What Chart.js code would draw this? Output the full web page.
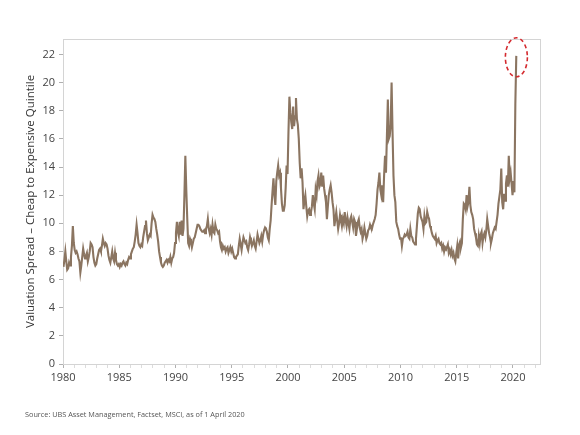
<!DOCTYPE html>
<html>
<head>
<meta charset="utf-8">
<script src="https://cdn.jsdelivr.net/npm/chart.js@4.4.1/dist/chart.umd.min.js"></script>
<style>
  html, body { margin: 0; padding: 0; background: #fff; }
  #wrap { position: relative; width: 580px; height: 435px; }
  #source {
    position: absolute; left: 25px; top: 409px;
    font: 7.3px 'Open Sans', sans-serif; color: #555;
  }
</style>
</head>
<body>
<div id="wrap">
  <canvas id="chart" width="580" height="435"></canvas>
  <div id="source">Source: UBS Asset Management, Factset, MSCI, as of 1 April 2020</div>
</div>
<script>
// Monthly valuation spread, Jan 1980 .. Apr 2020 (one row per year)
const startYear = 1980;
const spread = [
  6.9, 7.4, 8.0, 7.3, 6.7, 6.8, 7.2, 7.0, 7.6, 8.4, 9.8, 8.6,
  8.1, 7.9, 8.0, 7.8, 7.5, 7.3, 6.5, 7.0, 7.6, 8.2, 7.8, 7.5,
  7.7, 7.9, 7.3, 7.6, 8.0, 8.6, 8.5, 8.3, 7.6, 7.2, 7.0, 7.1,
  7.5, 7.8, 8.1, 8.2, 8.0, 8.4, 8.9, 8.6, 8.4, 8.6, 8.5, 8.2,
  7.7, 7.4, 7.2, 7.6, 8.0, 7.5, 7.3, 7.9, 7.4, 7.1, 7.0, 7.1,
  6.9, 7.1, 7.0, 7.2, 7.3, 7.1, 7.0, 7.2, 7.1, 7.4, 7.6, 7.5,
  7.8, 8.0, 8.2, 8.3, 8.7, 9.2, 9.9, 9.3, 8.6, 8.4, 8.3, 8.5,
  8.4, 9.0, 9.4, 9.8, 10.2, 9.3, 8.8, 9.0, 9.2, 9.1, 10.0, 10.6,
  10.4, 10.3, 10.1, 9.6, 9.2, 8.7, 8.0, 7.6, 7.2, 7.0, 6.9, 7.0,
  7.2, 7.3, 7.4, 7.2, 7.4, 7.3, 7.6, 7.2, 7.5, 7.6, 7.9, 8.6,
  9.3, 10.1, 9.4, 9.1, 10.1, 9.2, 10.2, 9.1, 9.6, 12.0, 14.8, 12.4,
  10.4, 8.6, 8.4, 8.9, 8.7, 8.3, 8.6, 8.9, 9.0, 9.3, 9.6, 9.9,
  9.9, 9.8, 9.6, 9.5, 9.4, 9.4, 9.5, 9.3, 9.6, 9.8, 10.3, 9.6,
  9.3, 9.6, 9.2, 9.9, 9.4, 9.3, 9.9, 9.6, 9.5, 9.3, 9.4, 8.7,
  8.3, 8.1, 8.4, 8.2, 8.3, 8.0, 8.2, 8.3, 7.9, 8.1, 8.3, 8.0,
  8.2, 7.9, 7.6, 7.5, 7.6, 7.7, 7.8, 8.4, 8.9, 8.5, 8.1, 8.6,
  9.0, 8.8, 8.6, 8.7, 8.3, 8.1, 8.5, 9.0, 8.7, 8.4, 8.6, 8.8,
  8.4, 8.2, 8.7, 9.2, 8.9, 8.6, 8.8, 9.1, 8.7, 9.2, 9.5, 9.7,
  9.6, 9.4, 9.0, 8.8, 9.6, 10.2, 11.3, 12.3, 13.2, 12.0, 11.3, 13.0,
  13.6, 14.1, 13.4, 13.6, 12.5, 11.4, 10.9, 10.9, 11.3, 12.5, 14.1, 13.5,
  16.5, 19.0, 17.9, 17.2, 16.7, 18.3, 16.9, 17.6, 18.9, 17.4, 17.0, 16.0,
  14.3, 13.2, 13.9, 12.9, 11.0, 11.6, 12.0, 11.2, 10.5, 10.9, 11.0, 10.6,
  10.8, 11.2, 12.0, 11.4, 11.0, 12.4, 12.0, 13.0, 13.4, 12.6, 12.8, 13.6,
  12.6, 13.4, 12.5, 12.0, 11.5, 10.3, 11.2, 12.0, 12.4, 12.7, 12.2, 11.5,
  11.0, 9.8, 10.3, 10.8, 10.2, 9.6, 10.0, 10.6, 10.2, 9.8, 10.3, 10.0,
  10.8, 10.2, 9.8, 10.4, 10.0, 9.6, 10.3, 10.5, 10.1, 9.7, 10.3, 10.1,
  9.1, 9.6, 10.1, 10.3, 9.7, 9.4, 9.6, 8.9, 9.2, 9.7, 9.3, 8.9,
  9.1, 9.5, 9.6, 9.9, 9.7, 9.6, 9.9, 10.1, 10.3, 10.6, 11.4, 12.4,
  12.9, 13.6, 12.4, 12.0, 12.7, 11.5, 13.4, 14.8, 13.6, 16.2, 18.8, 16.0,
  16.2, 17.0, 20.0, 16.5, 13.4, 12.0, 11.5, 10.1, 9.8, 9.6, 9.2, 8.9,
  9.0, 8.4, 8.9, 9.0, 9.2, 9.1, 9.2, 9.4, 9.0, 8.9, 9.6, 9.1,
  9.0, 8.7, 8.6, 8.5, 8.9, 9.8, 10.7, 11.1, 11.0, 10.5, 10.3, 10.1,
  9.6, 10.5, 10.0, 10.1, 10.8, 10.5, 10.3, 9.8, 9.6, 9.3, 9.1, 9.0,
  8.9, 9.1, 8.6, 8.8, 8.9, 8.6, 8.5, 8.6, 8.2, 8.4, 8.0, 8.3,
  8.2, 8.3, 8.5, 7.9, 8.1, 7.8, 8.1, 7.7, 7.9, 7.5, 7.3, 7.9,
  8.4, 7.5, 8.5, 8.7, 8.3, 8.6, 10.3, 11.4, 11.3, 11.0, 12.0, 11.2,
  11.5, 12.6, 11.3, 10.8, 10.6, 10.3, 9.6, 9.3, 9.0, 8.5, 8.4, 9.1,
  8.6, 9.2, 9.4, 8.6, 9.1, 9.3, 9.0, 9.5, 10.3, 9.8, 9.3, 9.0,
  8.6, 8.9, 9.3, 9.5, 9.7, 9.6, 10.1, 10.6, 11.4, 11.9, 12.4, 13.9,
  11.5, 11.0, 12.1, 11.6, 12.8, 13.4, 12.6, 14.8, 13.2, 13.6, 12.8, 12.0,
  13.0, 12.2, 18.5, 21.9
];
const xLabelYears = [1980, 1985, 1990, 1995, 2000, 2005, 2010, 2015, 2020];
const yTicks = [0, 2, 4, 6, 8, 10, 12, 14, 16, 18, 20, 22];
const highlight = { x: 2020.3, y: 21.8 };

const points = spread.map((v, i) => ({ x: startYear + (i + 0.5) / 12, y: v }));

// light frame round the plot + dashed red ring on the last spike
const framePlugin = {
  id: 'frame',
  beforeDatasetsDraw(chart) {
    const { ctx, chartArea: a } = chart;
    ctx.save();
    ctx.strokeStyle = '#d4d4d4';
    ctx.lineWidth = 1;
    ctx.strokeRect(a.left + 0.5, a.top + 0.5, a.right - a.left, a.bottom - a.top);
    ctx.restore();
  },
  afterDatasetsDraw(chart) {
    const { ctx, scales } = chart;
    const cx = scales.x.getPixelForValue(highlight.x);
    const cy = scales.y.getPixelForValue(highlight.y);
    ctx.save();
    ctx.strokeStyle = '#d42a2f';
    ctx.lineWidth = 1.6;
    ctx.setLineDash([4, 3]);
    ctx.beginPath();
    ctx.ellipse(cx, cy, 11, 19.5, 0, 0, Math.PI * 2);
    ctx.stroke();
    ctx.restore();
  }
};

Chart.defaults.font.family = "'Open Sans', sans-serif";
Chart.defaults.font.size = 11;
Chart.defaults.color = '#444';

new Chart(document.getElementById('chart'), {
  type: 'line',
  data: {
    datasets: [{
      data: points,
      borderColor: '#8b7561',
      borderWidth: 2.1,
      pointRadius: 0,
      tension: 0
    }]
  },
  options: {
    responsive: false,
    animation: false,
    layout: { padding: { left: 0, top: 39, right: 40, bottom: 41 } },
    plugins: { legend: { display: false }, tooltip: { enabled: false } },
    scales: {
      x: {
        type: 'linear',
        min: 1980,
        max: 2022.4,
        afterFit: (s) => { s.height = 30; },
        border: { color: '#c8c8c8' },
        grid: {
          drawOnChartArea: false,
          tickLength: 4,
          tickColor: (c) => xLabelYears.includes(c.tick.value) ? '#b0b0b0' : '#dcdcdc'
        },
        ticks: {
          stepSize: 1,
          autoSkip: false,
          includeBounds: false,
          maxRotation: 0,
          padding: 3,
          callback: (v) => xLabelYears.includes(v) ? String(v) : ''
        }
      },
      y: {
        min: 0,
        max: 23.1,
        afterFit: (s) => { s.width = 63; },
        border: { color: '#c8c8c8' },
        grid: { drawOnChartArea: false, tickLength: 4, tickColor: '#b0b0b0' },
        ticks: {
          stepSize: 2,
          includeBounds: false,
          padding: 4,
          callback: (v) => yTicks.includes(v) ? String(v) : ''
        },
        title: {
          display: true,
          text: 'Valuation Spread \u2013 Cheap to Expensive Quintile',
          font: { size: 11.5 },
          color: '#333',
          padding: { top: 24, bottom: 0 }
        }
      }
    }
  },
  plugins: [framePlugin]
});
</script>
</body>
</html>
